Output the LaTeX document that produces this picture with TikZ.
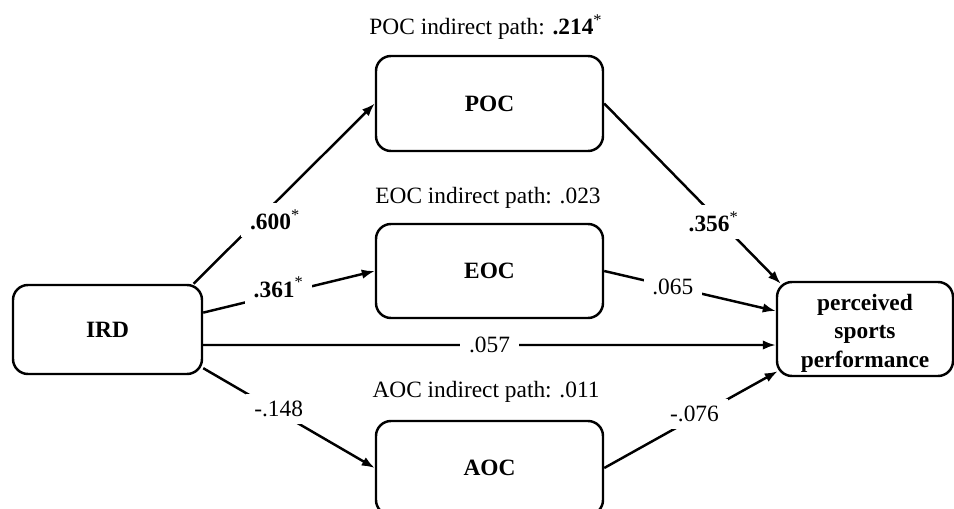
\documentclass[tikz,border=0pt]{standalone}
\usepackage{fontspec}
\setmainfont{Liberation Serif}
\usetikzlibrary{arrows.meta}

\begin{document}
\begin{tikzpicture}[
		var/.style={draw, line width=1.4pt, rounded corners=0.3cm, align=center,
			font=\fontsize{13.3}{16}\selectfont\bfseries},
		path/.style={line width=1.4pt, -{Latex[length=2.6mm, width=1.9mm]}},
		coef/.style={fill=white, inner xsep=5pt, inner ysep=4pt,
			font=\fontsize{13.3}{16}\selectfont},
		note/.style={inner sep=0pt, font=\fontsize{13.3}{16}\selectfont}
	]
		%%%%% START %%%%%
		\useasboundingbox (0, 0) rectangle (19.08, -10.16);
		
		\node[var, minimum width=3.78cm, minimum height=1.78cm] (ird) at (2.15, -6.59) {IRD};
		\node[var, minimum width=4.54cm, minimum height=1.9cm] (poc) at (9.79, -2.07) {POC};
		\node[var, minimum width=4.54cm, minimum height=1.88cm] (eoc) at (9.79, -5.42) {EOC};
		\node[var, minimum width=4.54cm, minimum height=1.88cm] (aoc) at (9.79, -9.36) {AOC};
		\node[var, minimum width=3.52cm, minimum height=1.88cm, inner ysep=0pt,
			text height=1.62cm, text depth=0.1cm]
			(perf) at (17.3, -6.58) {perceived\\sports\\performance};
		
		\node[note] (pocnote) at (9.72, -0.54) {POC indirect path: \textbf{.214}\textsuperscript{*}};
		\node[note] (eocnote) at (9.76, -3.96) {EOC indirect path: .023};
		\node[note] (aocnote) at (9.72, -7.84) {AOC indirect path: .011};
		
		% paths out of IRD
		\draw[path] (ird.28) -- node[coef, pos=0.45, yshift=-0.34cm] {\textbf{.600}\textsuperscript{*}} (poc.west);
		\draw[path] (ird.10.5) -- node[coef, pos=0.44, yshift=0.14cm] {\textbf{.361}\textsuperscript{*}} (eoc.west);
		\draw[path] ([yshift=-0.31cm]ird.east) -- node[coef, pos=0.5] {.057} ([yshift=-0.32cm]perf.west);
		\draw[path] (ird.-22) -- node[coef, pos=0.44, yshift=0.07cm] {-.148} (aoc.west);
		
		% paths into performance
		\draw[path] (poc.east) -- node[coef, pos=0.62, yshift=-0.13cm] {\textbf{.356}\textsuperscript{*}}
			([xshift=0.1cm, yshift=-0.06cm]perf.north west);
		\draw[path] (eoc.east) -- node[coef, pos=0.4] {.065} ([yshift=0.36cm]perf.west);
		\draw[path] (aoc.east) -- node[coef, pos=0.52, yshift=0.08cm] {-.076}
			([xshift=0.04cm, yshift=0.12cm]perf.south west);
		
		%%%%% END %%%%%
	\end{tikzpicture}
\end{document}
